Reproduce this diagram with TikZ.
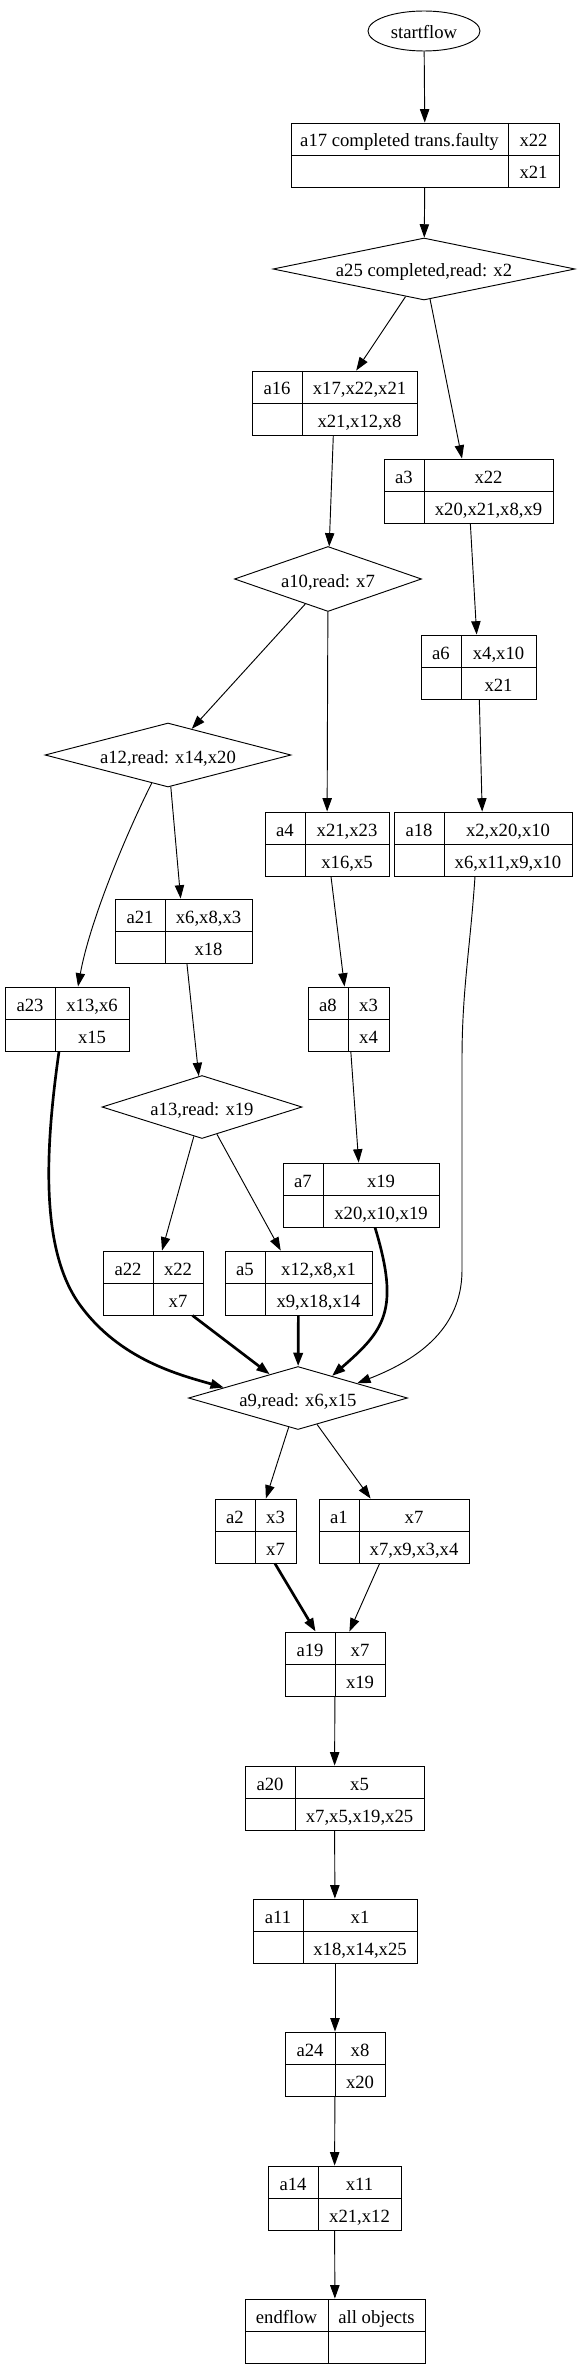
\documentclass[tikz,border=0pt]{standalone}
\usepackage{fontspec}
\setmainfont{Liberation Serif}
\usetikzlibrary{arrows.meta, shapes.geometric, calc}

% record node: name, left, divider, right, top, label, upper text, lower text (px)
\newcommand{\recnode}[8]{%
  \node[recbox, minimum width={(#4-#2)*0.75pt}] (#1) at ({(#2+#4)/2}, {#5+32}) {};
  \draw[recline] (#3,#5) -- (#3,{#5+64});
  \draw[recline] (#2,{#5+32}) -- (#4,{#5+32});
  \node[celltext] (#1-l) at ({(#2+#3)/2}, {#5+16}) {#6};
  \node[celltext] (#1-u) at ({(#3+#4)/2}, {#5+16}) {#7};
  \node[celltext] (#1-d) at ({(#3+#4)/2}, {#5+48}) {#8};
}

\begin{document}
\begin{tikzpicture}[x=0.75pt, y=-0.75pt,
    every node/.style={font=\fontsize{14pt}{16pt}\selectfont},
    recbox/.style={draw, rectangle, inner sep=0pt, minimum height=48pt, line width=0.7pt},
    recline/.style={line width=0.7pt},
    celltext/.style={inner sep=0pt, text height=12pt, text depth=0pt},
    diam/.style={draw, diamond, inner sep=0pt, line width=0.7pt, text height=12pt, text depth=0pt},
    flow/.style={line width=0.7pt, -{Triangle[length=10pt, width=7pt]}},
    boldflow/.style={flow, line width=2pt}]
    \useasboundingbox (0,0) rectangle (580,2368);

    % 1. start and decisions
    \node[draw, ellipse, inner sep=0pt, minimum width=84pt, minimum height=30pt, line width=0.7pt,
          text height=12pt, text depth=0pt] (startflow) at (424,31) {startflow};
    \node[diam, aspect=4.87, minimum width=302*0.75pt, minimum height=62*0.75pt] (a25) at (424,269) {a25 completed,read: x2};
    \node[diam, aspect=2.88, minimum width=187*0.75pt, minimum height=65*0.75pt] (a10) at (328,579) {a10,read: x7};
    \node[diam, aspect=3.84, minimum width=246*0.75pt, minimum height=64*0.75pt] (a12) at (168,755) {a12,read: x14,x20};
    \node[diam, aspect=3.17, minimum width=200*0.75pt, minimum height=63*0.75pt] (a13) at (202,1107) {a13,read: x19};
    \node[diam, aspect=3.48, minimum width=219*0.75pt, minimum height=63*0.75pt] (a9) at (298,1398) {a9,read: x6,x15};

    % 2. records
    \recnode{a17}{291}{508}{559}{123}{a17 completed trans.faulty}{x22}{x21}
    \recnode{a16}{252}{302}{417}{371}{a16}{x17,x22,x21}{x21,x12,x8}
    \recnode{a3}{384}{424}{553}{459}{a3}{x22}{x20,x21,x8,x9}
    \recnode{a6}{421}{461}{536}{635}{a6}{x4,x10}{x21}
    \recnode{a4}{265}{305}{389}{812}{a4}{x21,x23}{x16,x5}
    \recnode{a18}{394}{444}{572}{812}{a18}{x2,x20,x10}{x6,x11,x9,x10}
    \recnode{a21}{115}{165}{252}{899}{a21}{x6,x8,x3}{x18}
    \recnode{a23}{5}{55}{129}{987}{a23}{x13,x6}{x15}
    \recnode{a8}{308}{348}{389}{987}{a8}{x3}{x4}
    \recnode{a7}{283}{323}{439}{1163}{a7}{x19}{x20,x10,x19}
    \recnode{a22}{103}{153}{203}{1251}{a22}{x22}{x7}
    \recnode{a5}{225}{265}{372}{1251}{a5}{x12,x8,x1}{x9,x18,x14}
    \recnode{a2}{215}{255}{296}{1499}{a2}{x3}{x7}
    \recnode{a1}{319}{359}{469}{1499}{a1}{x7}{x7,x9,x3,x4}
    \recnode{a19}{285}{335}{385}{1632}{a19}{x7}{x19}
    \recnode{a20}{245}{295}{424}{1766}{a20}{x5}{x7,x5,x19,x25}
    \recnode{a11}{253}{303}{417}{1899}{a11}{x1}{x18,x14,x25}
    \recnode{a24}{285}{335}{385}{2032}{a24}{x8}{x20}
    \recnode{a14}{268}{318}{401}{2166}{a14}{x11}{x21,x12}
    \recnode{endflow}{245}{328}{425}{2299}{endflow}{all objects}{}

    % 3. thin edges
    \draw[flow] (startflow) -- (a17);
    \draw[flow] (a17) -- (a25);
    \draw[flow] (a25) -- (a16);
    \draw[flow] (a25) -- (a3);
    \draw[flow] (a16) -- (a10);
    \draw[flow] (a3) -- (a6);
    \draw[flow] (a10) -- (a12);
    \draw[flow] (a10) -- (a4);
    \draw[flow] (a6) -- (a18);
    \draw[flow] (a12.240) .. controls (128,830) and (90,920) .. ($(a23.north)+(11,0)$);
    \draw[flow] (a12) -- (a21);
    \draw[flow] (a4) -- (a8);
    \draw[flow] (a21) -- (a13);
    \draw[flow] (a8) -- (a7);
    \draw[flow] ($(a18.south)+(-8,0)$) .. controls (470,950) and (462,990) .. (462,1060)
        -- (462,1270) .. controls (462,1320) and (430,1355) .. (a9.14);
    \draw[flow] (a13) -- (a22);
    \draw[flow] (a13) -- (a5);

    % 4. bold edges into a9
    \draw[boldflow] ($(a23.south)+(-8,0)$) .. controls (45,1150) and (40,1250) .. (80,1305)
        .. controls (120,1360) and (180,1375) .. (a9.172);
    \draw[boldflow] ($(a22.south east)+(-11,0)$) -- (a9.140);
    \draw[boldflow] (a5) -- (a9);
    \draw[boldflow] ($(a7.south)+(14,0)$) .. controls (400,1310) and (385,1330) .. (a9.33);

    % 5. lower chain
    \draw[flow] (a9) -- (a2);
    \draw[flow] (a9) -- (a1);
    \draw[boldflow] (a2) -- (a19);
    \draw[flow] (a1) -- (a19);
    \draw[flow] (a19) -- (a20);
    \draw[flow] (a20) -- (a11);
    \draw[flow] (a11) -- (a24);
    \draw[flow] (a24) -- (a14);
    \draw[flow] (a14) -- (endflow);

\end{tikzpicture}
\end{document}
